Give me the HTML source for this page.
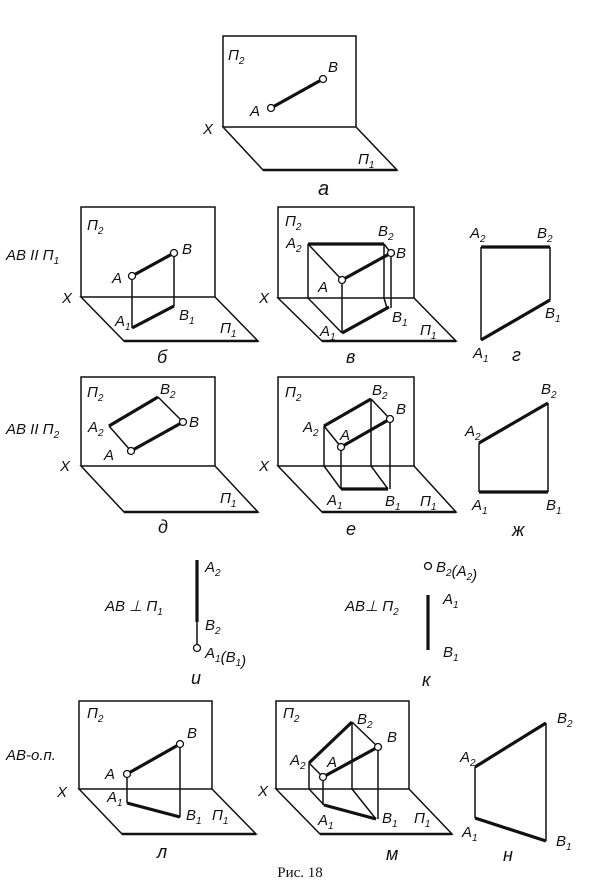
<!DOCTYPE html>
<html><head><meta charset="utf-8"><style>
html,body{margin:0;padding:0;background:#fff}
svg{display:block}
text{font-family:"Liberation Sans",sans-serif;font-style:italic;fill:#111;font-size:15px}
.s{font-size:10px}
line,polyline,polygon,rect{stroke:#111;fill:none}
.t{stroke-width:1.5}
.k{stroke-width:3.2}
.f{stroke-width:2.6}
circle{fill:#fff;stroke:#111;stroke-width:1.3}
</style></head><body>
<svg width="604" height="882" viewBox="0 0 604 882">
<!-- a -->
<polyline class="t" points="223,127 223,36 356,36 356,127"/>
<polygon class="t" points="223,127 356,127 397,170 263,170"/>
<line class="f" x1="263" y1="170" x2="397" y2="170"/>
<line class="k" x1="271" y1="108" x2="323" y2="79"/>
<circle cx="271" cy="108" r="3.5"/><circle cx="323" cy="79" r="3.5"/>
<text x="228" y="60">П<tspan class="s" dy="4">2</tspan></text>
<text x="328" y="72">B</text><text x="250" y="116">A</text>
<text x="203" y="134">X</text>
<text x="358" y="164">П<tspan class="s" dy="4">1</tspan></text>
<text x="318" y="195" style="font-size:20px">a</text>

<!-- б -->
<polyline class="t" points="81,297 81,207 215,207 215,297"/>
<polygon class="t" points="81,297 215,297 258,341 124,341"/>
<line class="f" x1="124" y1="341" x2="258" y2="341"/>
<line class="t" x1="132" y1="276" x2="132" y2="328"/><line class="t" x1="174" y1="253" x2="174" y2="306"/>
<line class="k" x1="132" y1="276" x2="174" y2="253"/><line class="k" x1="132" y1="328" x2="174" y2="306"/>
<circle cx="132" cy="276" r="3.5"/><circle cx="174" cy="253" r="3.5"/>
<text x="87" y="230">П<tspan class="s" dy="4">2</tspan></text>
<text x="182" y="254">B</text><text x="112" y="283">A</text>
<text x="62" y="303">X</text>
<text x="115" y="326">A<tspan class="s" dy="4">1</tspan></text>
<text x="179" y="320">B<tspan class="s" dy="4">1</tspan></text>
<text x="220" y="333">П<tspan class="s" dy="4">1</tspan></text>
<text x="157" y="363" style="font-size:18px">б</text>
<text x="6" y="260">AB II П<tspan class="s" dy="4">1</tspan></text>

<!-- в -->
<polyline class="t" points="278,298 278,207 414,207 414,298"/>
<polygon class="t" points="278,298 414,298 456,341 322,341"/>
<line class="f" x1="322" y1="341" x2="456" y2="341"/>
<polyline class="t" points="308,244 308,298 342,333"/>
<polyline class="t" points="384,244 384,298 387,308"/>
<line class="t" x1="308" y1="244" x2="342" y2="280"/>
<line class="t" x1="342" y1="280" x2="342" y2="333"/>
<line class="t" x1="391" y1="253" x2="391" y2="308"/>
<line class="t" x1="384" y1="244" x2="391" y2="253"/>
<line class="k" x1="308" y1="244" x2="384" y2="244"/>
<line class="k" x1="342" y1="280" x2="391" y2="253"/>
<line class="k" x1="342" y1="333" x2="389" y2="307"/>
<circle cx="342" cy="280" r="3.5"/><circle cx="391" cy="253" r="3.5"/>
<text x="285" y="226">П<tspan class="s" dy="4">2</tspan></text>
<text x="286" y="248">A<tspan class="s" dy="4">2</tspan></text>
<text x="378" y="236">B<tspan class="s" dy="4">2</tspan></text>
<text x="396" y="258">B</text><text x="318" y="292">A</text>
<text x="259" y="303">X</text>
<text x="320" y="336">A<tspan class="s" dy="4">1</tspan></text>
<text x="392" y="322">B<tspan class="s" dy="4">1</tspan></text>
<text x="420" y="335">П<tspan class="s" dy="4">1</tspan></text>
<text x="346" y="363" style="font-size:18px">в</text>

<!-- г -->
<line class="t" x1="481" y1="247" x2="481" y2="340"/><line class="t" x1="550" y1="247" x2="550" y2="300"/>
<line class="k" x1="481" y1="247" x2="550" y2="247"/><line class="k" x1="481" y1="340" x2="550" y2="300"/>
<text x="470" y="238">A<tspan class="s" dy="4">2</tspan></text>
<text x="537" y="238">B<tspan class="s" dy="4">2</tspan></text>
<text x="545" y="318">B<tspan class="s" dy="4">1</tspan></text>
<text x="473" y="358">A<tspan class="s" dy="4">1</tspan></text>
<text x="512" y="361" style="font-size:18px">г</text>

<!-- д -->
<polyline class="t" points="81,466 81,377 215,377 215,466"/>
<polygon class="t" points="81,466 215,466 258,512 124,512"/>
<line class="f" x1="124" y1="512" x2="258" y2="512"/>
<line class="t" x1="109" y1="426" x2="131" y2="451"/><line class="t" x1="158" y1="397" x2="183" y2="422"/>
<line class="k" x1="109" y1="426" x2="158" y2="397"/><line class="k" x1="131" y1="451" x2="183" y2="422"/>
<circle cx="131" cy="451" r="3.5"/><circle cx="183" cy="422" r="3.5"/>
<text x="87" y="397">П<tspan class="s" dy="4">2</tspan></text>
<text x="160" y="394">B<tspan class="s" dy="4">2</tspan></text>
<text x="88" y="432">A<tspan class="s" dy="4">2</tspan></text>
<text x="189" y="427">B</text><text x="104" y="460">A</text>
<text x="60" y="471">X</text>
<text x="220" y="503">П<tspan class="s" dy="4">1</tspan></text>
<text x="158" y="533" style="font-size:18px">д</text>
<text x="6" y="434">AB II П<tspan class="s" dy="4">2</tspan></text>

<!-- е -->
<polyline class="t" points="278,466 278,377 414,377 414,466"/>
<polygon class="t" points="278,466 414,466 456,512 322,512"/>
<line class="f" x1="322" y1="512" x2="456" y2="512"/>
<polyline class="t" points="324,426 324,466 341,489"/>
<polyline class="t" points="371,399 371,466 388,489"/>
<line class="t" x1="324" y1="426" x2="341" y2="447"/><line class="t" x1="371" y1="399" x2="390" y2="419"/>
<line class="t" x1="341" y1="447" x2="341" y2="489"/><line class="t" x1="390" y1="419" x2="390" y2="489"/>
<line class="k" x1="324" y1="426" x2="371" y2="399"/><line class="k" x1="341" y1="447" x2="390" y2="419"/>
<line class="k" x1="341" y1="489" x2="388" y2="489"/>
<circle cx="341" cy="447" r="3.5"/><circle cx="390" cy="419" r="3.5"/>
<text x="285" y="397">П<tspan class="s" dy="4">2</tspan></text>
<text x="372" y="395">B<tspan class="s" dy="4">2</tspan></text>
<text x="396" y="414">B</text>
<text x="303" y="432">A<tspan class="s" dy="4">2</tspan></text>
<text x="340" y="440">A</text>
<text x="259" y="471">X</text>
<text x="327" y="505">A<tspan class="s" dy="4">1</tspan></text>
<text x="385" y="506">B<tspan class="s" dy="4">1</tspan></text>
<text x="420" y="506">П<tspan class="s" dy="4">1</tspan></text>
<text x="346" y="535" style="font-size:18px">е</text>

<!-- ж -->
<line class="t" x1="479" y1="443" x2="479" y2="492"/><line class="t" x1="548" y1="403" x2="548" y2="492"/>
<line class="k" x1="479" y1="443" x2="548" y2="403"/><line class="k" x1="479" y1="492" x2="548" y2="492"/>
<text x="541" y="394">B<tspan class="s" dy="4">2</tspan></text>
<text x="465" y="436">A<tspan class="s" dy="4">2</tspan></text>
<text x="472" y="510">A<tspan class="s" dy="4">1</tspan></text>
<text x="546" y="510">B<tspan class="s" dy="4">1</tspan></text>
<text x="512" y="536" style="font-size:18px">ж</text>

<!-- и -->
<line class="k" x1="197" y1="560" x2="197" y2="622"/>
<line class="t" x1="197" y1="622" x2="197" y2="645"/>
<circle cx="197" cy="648" r="3.5"/>
<text x="205" y="572">A<tspan class="s" dy="4">2</tspan></text>
<text x="205" y="630">B<tspan class="s" dy="4">2</tspan></text>
<text x="205" y="658">A<tspan class="s" dy="4">1</tspan>(B<tspan class="s" dy="4">1</tspan>)</text>
<text x="105" y="611">AB ⊥ П<tspan class="s" dy="4">1</tspan></text>
<text x="191" y="684" style="font-size:18px">и</text>

<!-- к -->
<circle cx="428" cy="566" r="3.5"/>
<line class="k" x1="428" y1="595" x2="428" y2="650"/>
<text x="436" y="572">B<tspan class="s" dy="4">2</tspan>(A<tspan class="s" dy="4">2</tspan>)</text>
<text x="443" y="604">A<tspan class="s" dy="4">1</tspan></text>
<text x="443" y="657">B<tspan class="s" dy="4">1</tspan></text>
<text x="345" y="611">AB⊥ П<tspan class="s" dy="4">2</tspan></text>
<text x="422" y="686" style="font-size:18px">к</text>

<!-- л -->
<polyline class="t" points="79,789 79,701 212,701 212,789"/>
<polygon class="t" points="79,789 212,789 256,834 122,834"/>
<line class="f" x1="122" y1="834" x2="256" y2="834"/>
<line class="t" x1="127" y1="774" x2="127" y2="803"/><line class="t" x1="180" y1="744" x2="180" y2="817"/>
<line class="k" x1="127" y1="774" x2="180" y2="744"/><line class="k" x1="127" y1="803" x2="180" y2="817"/>
<circle cx="127" cy="774" r="3.5"/><circle cx="180" cy="744" r="3.5"/>
<text x="87" y="718">П<tspan class="s" dy="4">2</tspan></text>
<text x="187" y="738">B</text><text x="105" y="779">A</text>
<text x="57" y="797">X</text>
<text x="107" y="802">A<tspan class="s" dy="4">1</tspan></text>
<text x="186" y="820">B<tspan class="s" dy="4">1</tspan></text>
<text x="212" y="820">П<tspan class="s" dy="4">1</tspan></text>
<text x="157" y="858" style="font-size:18px">л</text>
<text x="6" y="760">AB-o.п.</text>

<!-- м -->
<polyline class="t" points="276,789 276,701 409,701 409,789"/>
<polygon class="t" points="276,789 409,789 452,834 320,834"/>
<line class="f" x1="320" y1="834" x2="452" y2="834"/>
<polyline class="t" points="309,763 309,789 324,805"/>
<polyline class="t" points="352,722 352,789 376,819"/>
<line class="t" x1="309" y1="763" x2="323" y2="777"/><line class="t" x1="352" y1="722" x2="378" y2="747"/>
<line class="t" x1="323" y1="777" x2="323" y2="805"/><line class="t" x1="378" y1="747" x2="378" y2="819"/>
<line class="k" x1="309" y1="763" x2="352" y2="722"/><line class="k" x1="323" y1="777" x2="378" y2="747"/>
<line class="k" x1="324" y1="805" x2="376" y2="819"/>
<circle cx="323" cy="777" r="3.5"/><circle cx="378" cy="747" r="3.5"/>
<text x="283" y="718">П<tspan class="s" dy="4">2</tspan></text>
<text x="357" y="724">B<tspan class="s" dy="4">2</tspan></text>
<text x="387" y="742">B</text>
<text x="290" y="765">A<tspan class="s" dy="4">2</tspan></text>
<text x="327" y="767">A</text>
<text x="258" y="796">X</text>
<text x="318" y="825">A<tspan class="s" dy="4">1</tspan></text>
<text x="382" y="823">B<tspan class="s" dy="4">1</tspan></text>
<text x="414" y="823">П<tspan class="s" dy="4">1</tspan></text>
<text x="386" y="860" style="font-size:18px">м</text>

<!-- н -->
<line class="t" x1="475" y1="767" x2="475" y2="818"/><line class="t" x1="546" y1="723" x2="546" y2="841"/>
<line class="k" x1="475" y1="767" x2="546" y2="723"/><line class="k" x1="475" y1="818" x2="546" y2="841"/>
<text x="557" y="723">B<tspan class="s" dy="4">2</tspan></text>
<text x="460" y="762">A<tspan class="s" dy="4">2</tspan></text>
<text x="462" y="837">A<tspan class="s" dy="4">1</tspan></text>
<text x="556" y="846">B<tspan class="s" dy="4">1</tspan></text>
<text x="503" y="861" style="font-size:18px">н</text>

<text x="300" y="877" text-anchor="middle" style="font-family:'Liberation Serif',serif;font-style:normal;font-size:15px">Рис. 18</text>
</svg>
</body></html>
